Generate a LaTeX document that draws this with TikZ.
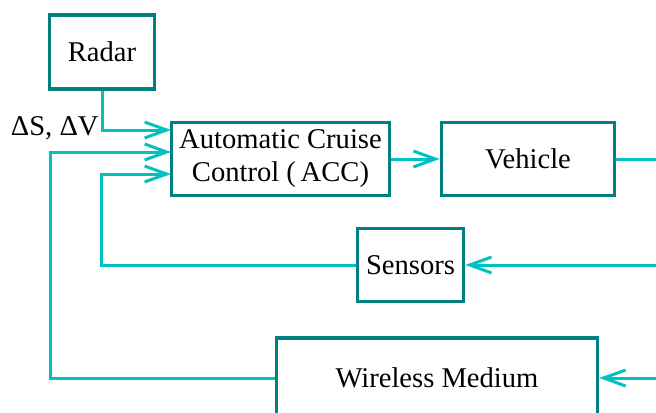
\documentclass[tikz,border=0pt]{standalone}
\usepackage{fontspec}
\setmainfont{Liberation Serif}
\usetikzlibrary{arrows.meta}
\pgfdeclarelayer{edgelayer}
\pgfdeclarelayer{nodelayer}
\pgfsetlayers{edgelayer,nodelayer,main}
\definecolor{boxteal}{RGB}{0,128,128}
\definecolor{wireteal}{RGB}{0,194,194}
\tikzstyle{none}=[inner sep=0pt]
\tikzstyle{block}=[draw=boxteal, line width=1.75pt, fill=white, align=center, inner sep=0pt, font=\fontsize{14.3}{16.5}\selectfont]
\tikzstyle{wire}=[draw=wireteal, line width=1.5pt]
\tikzstyle{feed}=[wire, -{Straight Barb[length=11pt,width=8pt]}]

\begin{document}
\begin{tikzpicture}[x=0.5pt, y=-0.5pt]
	\useasboundingbox (0,0) rectangle (656,412);
	\begin{pgfonlayer}{nodelayer}
		\node [style=block, minimum width=52.5pt, minimum height=37pt] (0) at (102, 52) {Radar};
		\node [style=block, minimum width=109pt, minimum height=36.5pt] (1) at (280.5, 159) {Automatic Cruise\\Control (\,ACC)};
		\node [style=block, minimum width=86.5pt, minimum height=36.5pt] (2) at (528, 159) {Vehicle};
		\node [style=block, minimum width=53pt, minimum height=36.5pt] (3) at (410.5, 265) {Sensors};
		\node [style=block, minimum width=160.5pt, minimum height=40pt] (4) at (437, 378) {Wireless Medium};
		\node [style=none, anchor=east, font=\fontsize{14.3}{16.5}\selectfont] (5) at (99, 128) {ΔS, ΔV};
		\node [style=none] (7) at (171, 130) {};
		\node [style=none] (8) at (50, 152) {};
		\node [style=none] (9) at (171, 152) {};
		\node [style=none] (11) at (101, 174) {};
		\node [style=none] (12) at (171, 174) {};
		\node [style=none] (14) at (656, 159) {};
		\node [style=none] (15) at (656, 265) {};
		\node [style=none] (16) at (656, 378) {};
	\end{pgfonlayer}
	\begin{pgfonlayer}{edgelayer}
		\draw [style=feed] (0.south) |- (7.center);
		\draw [style=feed] (4.west) -| (8.center) -- (9.center);
		\draw [style=feed] (3.west) -| (11.center) -- (12.center);
		\draw [style=feed] (1.east) -- (2.west);
		\draw [style=wire] (2.east) -- (14.center);
		\draw [style=feed] (15.center) -- (3.east);
		\draw [style=feed] (16.center) -- (4.east);
	\end{pgfonlayer}
\end{tikzpicture}
\end{document}
